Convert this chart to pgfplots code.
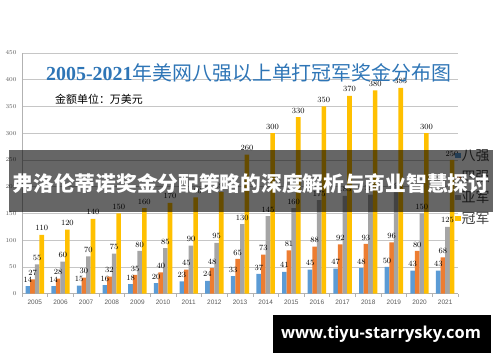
\documentclass[border=0pt]{standalone}
\usepackage{fontspec}
\setmainfont{Liberation Sans}
\newfontfamily\cjk{Noto Sans CJK SC}
\newfontfamily\serifb{Liberation Serif}
\newfontfamily\wmfont{Open Sans}
\usepackage{pgfplots}
\pgfplotsset{compat=1.18}
\definecolor{cblue}{HTML}{5B9BD5}
\definecolor{corange}{HTML}{ED7D31}
\definecolor{cgray}{HTML}{A5A5A5}
\definecolor{cyellow}{HTML}{FFC000}
\definecolor{ctitle}{HTML}{2E75B6}
\begin{document}
\begin{tikzpicture}[x=1bp,y=1bp]
\path[use as bounding box] (0,0) rectangle (500,362);
\begin{axis}[
  at={(22bp,68.3bp)}, anchor=south west,
  scale only axis, width=436bp, height=240.7bp,
  xmin=-0.5, xmax=16.5, ymin=0, ymax=450,
  ybar=0pt, bar width=4.6bp,
  xtick={0,...,16},
  xticklabels={2005,2006,2007,2008,2009,2010,2011,2012,2013,2014,2015,2016,2017,2018,2019,2020,2021},
  minor xtick={-0.5,0.5,...,16.5},
  major tick length=0pt, minor tick length=3bp, tick align=outside,
  minor tick style={gray!60, line width=0.6bp},
  ytick={0,50,...,450},
  ymajorgrids, grid style={gray!45, line width=0.6bp},
  axis lines*=left,
  axis line style={gray!60, line width=0.6bp},
  tick label style={font={\fontsize{6.5}{7}\selectfont}, text=black!65},
  xticklabel style={yshift=-3bp},
  yticklabel style={xshift=-2bp},
  nodes near coords,
  every node near coord/.append style={font={\bfseries\fontsize{8}{8}\selectfont}, text=black, inner sep=1.2bp, yshift=2.5bp},
  legend style={at={(0.993,0.605)}, anchor=north west, draw=none, fill=none,
    font={\cjk\fontsize{14}{14}\selectfont}, text=black!75, row sep=6.4bp, inner sep=0pt,
    nodes={inner sep=1pt}},
  legend image code/.code={\fill[#1] (0bp,-2.7bp) rectangle (5.4bp,2.7bp);},
]
\addplot[fill=cblue, draw=none] coordinates {(0,14) (1,14) (2,15) (3,16) (4,18) (5,20) (6,23) (7,24) (8,33) (9,37) (10,41) (11,45) (12,47) (13,48) (14,50) (15,43) (16,43)};
\addplot[fill=corange, draw=none] coordinates {(0,27) (1,28) (2,30) (3,32) (4,35) (5,40) (6,45) (7,48) (8,65) (9,73) (10,81) (11,88) (12,92) (13,93) (14,96) (15,80) (16,68)};
\addplot[fill=cgray, draw=none] coordinates {(0,55) (1,60) (2,70) (3,75) (4,80) (5,85) (6,90) (7,95) (8,130) (9,145) (10,160) (11,175) (12,183) (13,185) (14,190) (15,150) (16,125)};
\addplot[fill=cyellow, draw=none] coordinates {(0,110) (1,120) (2,140) (3,150) (4,160) (5,170) (6,180) (7,190) (8,260) (9,300) (10,330) (11,350) (12,370) (13,380) (14,385) (15,300) (16,250)};
\legend{八强,四强,亚军,冠军}
\end{axis}
\node[anchor=west, inner sep=0, text=ctitle, font={\fontsize{20}{20}\selectfont}] at (46,289) {{\serifb\bfseries 2005-2021}{\cjk 年美网八强以上单打冠军奖金分布图}};
\node[anchor=west, inner sep=0, font={\cjk\fontsize{11}{11}\selectfont}] at (55,263) {金额单位：万美元};
\fill[black, opacity=0.6] (9,150) rectangle (493,212);
\node[text=white, inner sep=0, font={\cjk\bfseries\fontsize{20.8}{21}\selectfont}] at (251,178) {弗洛伦蒂诺奖金分配策略的深度解析与商业智慧探讨};
\fill[black] (273,9) rectangle (491,47);
\node[text=white, inner sep=0, font={\wmfont\bfseries\fontsize{16.5}{16.5}\selectfont}] at (381,28) {www.tiyu-starrysky.com};
\end{tikzpicture}
\end{document}
